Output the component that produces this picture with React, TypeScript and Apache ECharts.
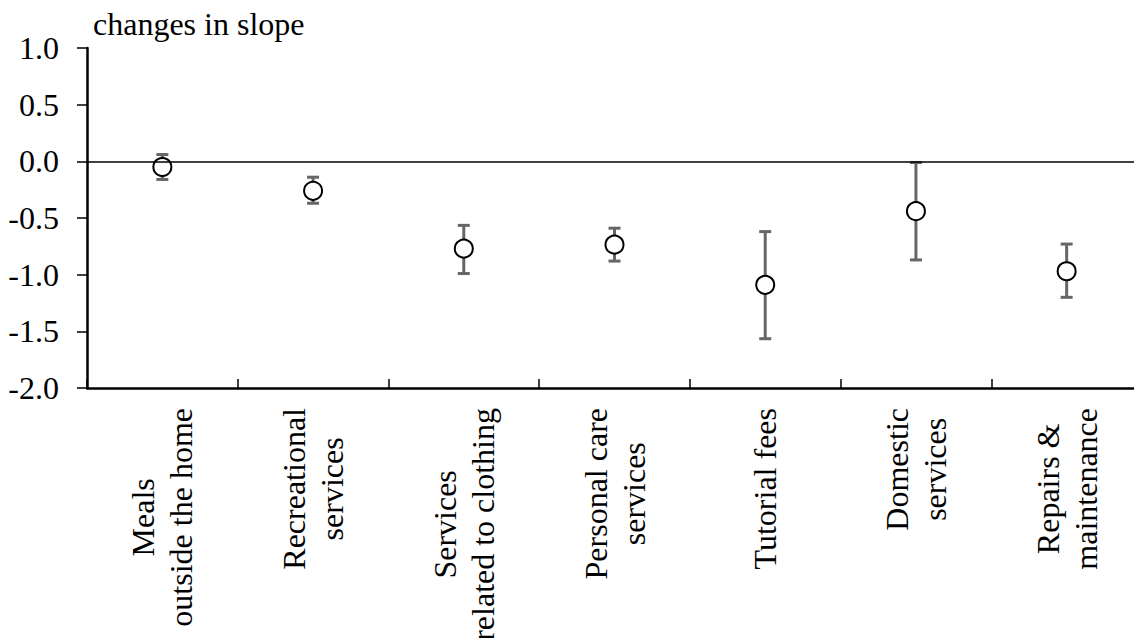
import React, { useEffect, useRef } from "react";
import * as echarts from "echarts";

const categories = [
  "Meals\noutside the home",
  "Recreational\nservices",
  "Services\nrelated to clothing",
  "Personal care\nservices",
  "Tutorial fees",
  "Domestic\nservices",
  "Repairs &\nmaintenance",
];
const estimates = [-0.05, -0.26, -0.77, -0.735, -1.09, -0.44, -0.97];
const lowerBounds = [-0.16, -0.37, -0.99, -0.88, -1.565, -0.87, -1.2];
const upperBounds = [0.06, -0.14, -0.565, -0.59, -0.62, -0.01, -0.73];
const yMin = -2.0;
const yMax = 1.0;
const yStep = 0.5;
const yTitle = "changes in slope";

const FONT = "Times New Roman";

export default function App() {
  const ref = useRef<HTMLDivElement>(null);
  useEffect(() => {
    if (!ref.current) return;
    const chart = echarts.init(ref.current, null, { renderer: "svg" });
    const errData = categories.map((_, i) => [i, lowerBounds[i], upperBounds[i]]);
    const ptData = categories.map((_, i) => [i, estimates[i]]);
    chart.setOption({
      animation: false,
      backgroundColor: "#fff",
      textStyle: { fontFamily: FONT },
      grid: {
        left: 87,
        top: 48,
        height: 340,
        width: 1055,
        containLabel: false,
        outerBoundsMode: "none",
      },
      xAxis: {
        type: "category",
        data: categories,
        boundaryGap: true,
        axisLine: { onZero: false, lineStyle: { color: "#000", width: 2.5 } },
        axisTick: { show: true, inside: true, length: 9, interval: 0, lineStyle: { color: "#000", width: 1.5 } },
        splitLine: { show: false },
        axisLabel: {
          interval: 0,
          rotate: 90,
          margin: 20,
          hideOverlap: false,
          fontFamily: FONT,
          fontSize: 32,
          lineHeight: 38,
          color: "#000",
          padding: [0, 0, 0, 0],
          backgroundColor: "rgba(255,255,255,0)",
          formatter: (v: string) => v.split("\n").map((l) => `{c|${l}}`).join("\n"),
          rich: {
            c: { align: "center", fontFamily: FONT, fontSize: 32, lineHeight: 38, color: "#000" },
          },
        },
      },
      yAxis: {
        type: "value",
        min: yMin,
        max: yMax,
        interval: yStep,
        name: yTitle,
        nameLocation: "end",
        nameGap: 8,
        nameTextStyle: {
          align: "left",
          verticalAlign: "bottom",
          padding: [0, 0, 0, 6],
          color: "#000",
          fontFamily: FONT,
          fontSize: 32,
        },
        axisLine: { show: true, lineStyle: { color: "#000", width: 2.5 } },
        axisTick: { show: true, length: 10, lineStyle: { color: "#000", width: 1.5 } },
        splitLine: { show: false },
        axisLabel: {
          margin: 28,
          fontFamily: FONT,
          fontSize: 32,
          color: "#000",
          padding: [0, 0, 0, 0],
          backgroundColor: "rgba(255,255,255,0)",
          formatter: (v: number) => v.toFixed(1),
        },
      },
      series: [
        {
          type: "custom",
          data: errData,
          encode: { x: 0, y: [1, 2] },
          z: 2,
          renderItem: (params: any, api: any) => {
            const x = api.value(0);
            const pLo = api.coord([x, api.value(1)]);
            const pHi = api.coord([x, api.value(2)]);
            const hw = 6;
            const style = { stroke: "#666", lineWidth: 3 };
            return {
              type: "group",
              children: [
                { type: "line", shape: { x1: pHi[0], y1: pHi[1], x2: pLo[0], y2: pLo[1] }, style },
                { type: "line", shape: { x1: pHi[0] - hw, y1: pHi[1], x2: pHi[0] + hw, y2: pHi[1] }, style },
                { type: "line", shape: { x1: pLo[0] - hw, y1: pLo[1], x2: pLo[0] + hw, y2: pLo[1] }, style },
              ],
            };
          },
        },
        {
          type: "scatter",
          data: ptData,
          z: 3,
          symbol: "circle",
          symbolSize: 18,
          itemStyle: { color: "#fff", borderColor: "#000", borderWidth: 2, opacity: 1 },
          markLine: {
            silent: true,
            symbol: ["none", "none"],
            label: { show: false },
            lineStyle: { color: "#000", width: 1.5, type: "solid" },
            data: [{ yAxis: 0 }],
          },
        },
      ],
    });
    return () => chart.dispose();
  }, []);
  return (
    <div
      ref={ref}
      style={{ position: "fixed", left: 0, top: 0, width: 1134, height: 638, background: "#fff" }}
    />
  );
}
